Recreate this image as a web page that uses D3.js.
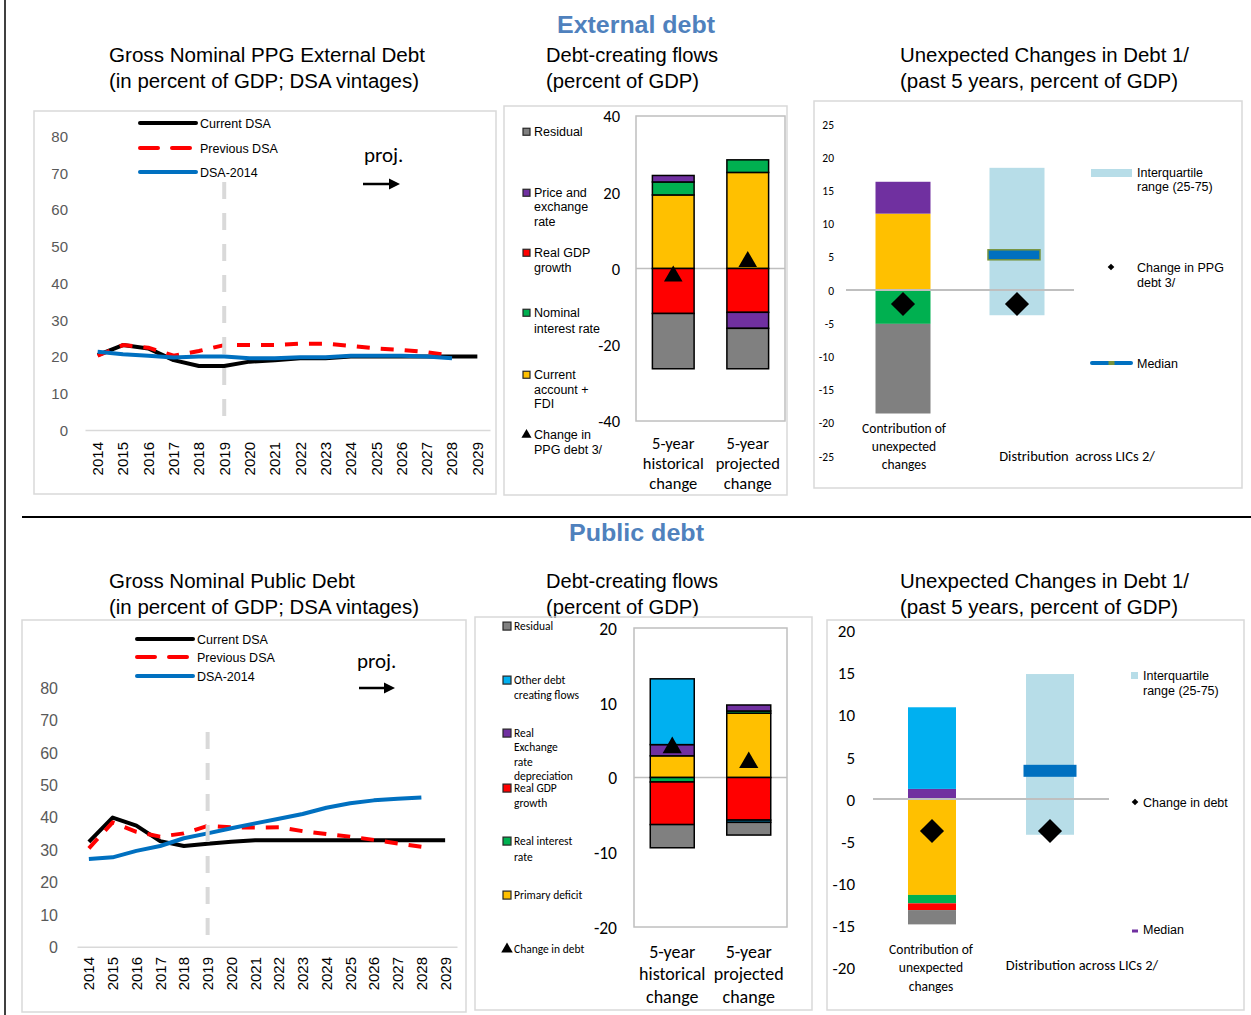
<!DOCTYPE html>
<html><head><meta charset="utf-8">
<script src="https://cdn.jsdelivr.net/npm/d3@7"></script>
<style>body{margin:0;background:#fff}svg{display:block}</style>
</head><body><svg id="c" width="1251" height="1015"></svg>
<script>
// ---------------- DATA ----------------
const years = [2014,2015,2016,2017,2018,2019,2020,2021,2022,2023,2024,2025,2026,2027,2028,2029];
const lineTicks = [0,10,20,30,40,50,60,70,80];
const lineSeriesNames = ["Current DSA","Previous DSA","DSA-2014"];

// External debt (PPG), % of GDP
const extCurrent  = [20.4,23.1,22.2,19.0,17.4,17.4,18.6,19.0,19.5,19.5,20.0,20.0,20.0,20.0,20.0,20.0];
const extPrevious = [20.2,23.1,22.4,20.2,21.5,23.1,23.1,23.1,23.5,23.5,22.9,22.2,21.8,21.2,20.2];
const ext2014     = [21.3,20.6,20.2,19.7,20.0,20.0,19.5,19.5,19.8,19.8,20.2,20.2,20.2,20.0,19.5];

// Public debt, % of GDP
const pubCurrent  = [32.4,39.9,37.4,32.6,31.1,31.8,32.4,32.9,32.9,32.9,32.9,32.9,32.9,32.9,32.9,32.9];
const pubPrevious = [30.4,38.4,35.5,34.0,35.0,37.3,36.9,36.8,36.9,35.7,34.8,34.0,33.0,31.9,30.9];
const pub2014     = [27.1,27.6,29.6,31.1,33.5,35.0,36.6,38.1,39.5,41.0,42.9,44.3,45.2,45.7,46.1];

// Debt-creating flows
const flowCats = ["5-year historical change","5-year projected change"];
const flowCatLines = [["5-year","historical","change"],["5-year","projected","change"]];

// external flows (stack order: CA, RGDP, NomInt, Price, Residual)
const extKeys = ["Current account + FDI","Real GDP growth","Nominal interest rate","Price and exchange rate","Residual"];
const extCA       = [19.3, 25.2];
const extRGDP     = [-11.8, -11.5];
const extNomInt   = [3.4, 3.3];
const extPrice    = [1.7, -4.2];
const extResidual = [-14.5, -10.6];
const extChange   = [-2.0, 1.8];
const flowTicksExt = [-40,-20,0,20,40];

// public flows (stack order: Primary, RealInt, RGDP, RER, Other, Residual)
const pubKeys = ["Primary deficit","Real interest rate","Real GDP growth","Real Exchange rate depreciation","Other debt creating flows","Residual"];
const pubPrimary  = [2.9, 8.6];
const pubRealInt  = [-0.6, 0.3];
const pubRGDP     = [-5.7, -5.7];
const pubRER      = [1.5, 0.8];
const pubOther    = [8.8, -0.3];
const pubResidual = [-3.1, -1.7];
const pubChange   = [4.0, 2.0];
const flowTicksPub = [-20,-10,0,10,20];

// Unexpected changes
const unexpCats = ["Contribution of unexpected changes","Distribution across LICs 2/"];
const extUnexp = [11.5, 0, -5.1, 4.8, -13.5];          // same order as extKeys
const extUnexpChange = -2.1;
const extIQR = [-3.8, 18.4];
const extMedian = 5.3;
const unexpTicksExt = [-25,-20,-15,-10,-5,0,5,10,15,20,25];

const pubUnexp = [-11.4, -1.0, -0.8, 1.2, 9.7, -1.7];  // same order as pubKeys
const pubUnexpChange = -3.8;
const pubIQR = [-4.25, 14.85];
const pubMedian = 3.35;
const unexpTicksPub = [-20,-15,-10,-5,0,5,10,15,20];

// ---------------- STYLE ----------------
const C = {gray:"#808080", purple:"#7030a0", red:"#ff0000", green:"#00b050", yellow:"#ffc000", sky:"#00b0f0", iqr:"#b7dde8", median:"#0070c0", black:"#000", blue:"#0070c0"};
const extColors = {"Current account + FDI":C.yellow,"Real GDP growth":C.red,"Nominal interest rate":C.green,"Price and exchange rate":C.purple,"Residual":C.gray};
const pubColors = {"Primary deficit":C.yellow,"Real interest rate":C.green,"Real GDP growth":C.red,"Real Exchange rate depreciation":C.purple,"Other debt creating flows":C.sky,"Residual":C.gray};
const FONT = "'Liberation Sans', Arial, sans-serif";
const NARROW = "'Liberation Sans Narrow','Arial Narrow','Liberation Sans',Arial,sans-serif";
const CAL = "Carlito, Calibri, Lato, 'Open Sans', sans-serif";
const plain = d => String(d);

const svg = d3.select("#c");

// frame lines
svg.append("line").attr("x1",5).attr("x2",5).attr("y1",0).attr("y2",1015).attr("stroke","#000").attr("stroke-width",1.5);
svg.append("line").attr("x1",22).attr("x2",1251).attr("y1",517).attr("y2",517).attr("stroke","#000").attr("stroke-width",2);

function txt(s, x, y, fs, fam, opt={}) {
  const t = svg.append("text").attr("x",x).attr("y",y).attr("font-size",fs).attr("font-family",fam)
    .attr("fill",opt.fill||"#000").attr("text-anchor",opt.anchor||"start").text(s);
  if (opt.weight) t.attr("font-weight",opt.weight);
  if (opt.len) t.attr("textLength",opt.len).attr("lengthAdjust","spacingAndGlyphs");
  return t;
}

// Section & panel titles
txt("External debt", 557, 33, 24, NARROW, {fill:"#4f81bd", weight:"bold", len:158});
txt("Public debt", 569, 541, 24, NARROW, {fill:"#4f81bd", weight:"bold", len:135});
[[62,88],[588,614]].forEach(([a,b],k)=>{
  txt(k===0?"Gross Nominal PPG External Debt":"Gross Nominal Public Debt", 109, a, 20, NARROW, {len:k===0?316:246});
  txt("(in percent of GDP; DSA vintages)", 109, b, 20, NARROW, {len:310});
  txt("Debt-creating flows", 546, a, 20, NARROW, {len:172});
  txt("(percent of GDP)", 546, b, 20, NARROW, {len:153});
  txt("Unexpected Changes in Debt 1/", 900, a, 20, NARROW, {len:289});
  txt("(past 5 years, percent of GDP)", 900, b, 20, NARROW, {len:278});
});

// ---------------- LINE PANELS ----------------
function linePanel(o) {
  const g = svg.append("g");
  g.append("rect").attr("x",o.box[0]).attr("y",o.box[1]).attr("width",o.box[2]).attr("height",o.box[3])
    .attr("fill","none").attr("stroke","#d9d9d9").attr("stroke-width",1.5);
  const x = d3.scaleBand().domain(years).range(o.xr);
  const y = d3.scaleLinear().domain([0,80]).range(o.yr);
  const cx = d => x(d) + x.bandwidth()/2;

  const ya = g.append("g").attr("transform",`translate(${o.tickX},0)`)
    .call(d3.axisLeft(y).tickValues(lineTicks).tickFormat(plain).tickSize(0).tickPadding(0));
  ya.select(".domain").remove();
  ya.selectAll("text").attr("font-family",FONT).attr("font-size",o.tickFs).attr("fill","#595959").attr("dy","0.36em");

  const xa = g.append("g").attr("transform",`translate(0,${o.yr[0]})`)
    .call(d3.axisBottom(x).tickFormat(plain).tickSize(0).tickSizeOuter(0));
  xa.select(".domain").attr("stroke","#d9d9d9").attr("stroke-width",1.5);
  xa.selectAll("text").attr("font-family",FONT).attr("font-size",15).attr("fill","#000")
    .attr("transform","rotate(-90)").attr("text-anchor","end")
    .attr("x", -(o.yearTop - o.yr[0])).attr("y",0).attr("dy","0.36em");

  const line = d3.line().x((d,i)=>cx(years[i])).y(d=>y(d));
  const styles = [
    {c:C.black, dash:null},
    {c:C.red, dash:"13,11"},
    {c:C.blue, dash:null}
  ];
  o.series.forEach((s,i)=>{
    g.append("path").attr("d",line(s)).attr("fill","none").attr("stroke",styles[i].c)
      .attr("stroke-width",4).attr("stroke-dasharray",styles[i].dash).attr("stroke-linejoin","round");
  });
  // projection divider
  g.append("line").attr("x1",cx(2019)).attr("x2",cx(2019)).attr("y1",o.dashTop).attr("y2",o.yr[0])
    .attr("stroke","#d9d9d9").attr("stroke-width",4).attr("stroke-dasharray","17,14");
  // legend
  lineSeriesNames.forEach((n,i)=>{
    g.append("line").attr("x1",o.lx[0]).attr("x2",o.lx[1]).attr("y1",o.ly[i]).attr("y2",o.ly[i])
      .attr("stroke",styles[i].c).attr("stroke-width",4).attr("stroke-dasharray",styles[i].dash?"18,14":null)
      .attr("stroke-linecap","round");
    g.append("text").attr("x",o.lx[1]+4).attr("y",o.ly[i]).attr("dy","0.36em").attr("font-family",FONT)
      .attr("font-size",12.5).text(n);
  });
  // proj.
  g.append("text").attr("x",o.proj[0]).attr("y",o.proj[1]).attr("font-family",CAL).attr("font-size",21).text("proj.");
  g.append("line").attr("x1",o.arrow[0]).attr("x2",o.arrow[1]-8).attr("y1",o.arrow[2]).attr("y2",o.arrow[2])
    .attr("stroke","#000").attr("stroke-width",2.5);
  g.append("path").attr("d",`M${o.arrow[1]},${o.arrow[2]} L${o.arrow[1]-11},${o.arrow[2]-5.5} L${o.arrow[1]-11},${o.arrow[2]+5.5} Z`).attr("fill","#000");
}

linePanel({box:[34,111,462,383], xr:[85,490], yr:[430,136], tickX:68, tickFs:15, yearTop:442, dashTop:182,
  lx:[140,196], ly:[123,148,172], proj:[364,162], arrow:[363,400,184],
  series:[extCurrent, extPrevious, ext2014]});
linePanel({box:[22,620,444,392], xr:[77,457], yr:[946.7,687.7], tickX:58, tickFs:16, yearTop:957, dashTop:732,
  lx:[137,193], ly:[639,657,676], proj:[357,668], arrow:[359,395,688],
  series:[pubCurrent, pubPrevious, pub2014]});

// ---------------- FLOW PANELS ----------------
function flowPanel(o) {
  const g = svg.append("g");
  g.append("rect").attr("x",o.outer[0]).attr("y",o.outer[1]).attr("width",o.outer[2]).attr("height",o.outer[3])
    .attr("fill","none").attr("stroke","#d9d9d9").attr("stroke-width",1.5);
  g.append("rect").attr("x",o.px[0]).attr("y",o.py[1]).attr("width",o.px[1]-o.px[0]).attr("height",o.py[0]-o.py[1])
    .attr("fill","none").attr("stroke","#bfbfbf").attr("stroke-width",1.5);
  const x = d3.scaleBand().domain(flowCats).range(o.px);
  const y = d3.scaleLinear().domain(o.domain).range(o.py);
  const bw = x.bandwidth()*o.bwFrac;
  const cx = d => x(d) + x.bandwidth()/2;

  g.append("line").attr("x1",o.px[0]).attr("x2",o.px[1]).attr("y1",y(0)).attr("y2",y(0))
    .attr("stroke","#bfbfbf").attr("stroke-width",1.5);

  const rows = flowCats.map((c,i)=>{const r={cat:c}; o.keys.forEach((k,j)=>r[k]=o.vals[j][i]); return r;});
  const stacked = d3.stack().keys(o.keys).offset(d3.stackOffsetDiverging)(rows);
  stacked.forEach(layer=>{
    g.selectAll(null).data(layer.filter(d=>d[1]!==d[0])).join("rect")
      .attr("x",d=>cx(d.data.cat)-bw/2).attr("width",bw)
      .attr("y",d=>y(Math.max(d[0],d[1]))).attr("height",d=>Math.abs(y(d[0])-y(d[1])))
      .attr("fill",o.colors[layer.key]).attr("stroke","#000").attr("stroke-width",1.5);
  });
  g.selectAll(null).data(o.change).join("path")
    .attr("d",d3.symbol(d3.symbolTriangle, o.triSize))
    .attr("transform",(d,i)=>`translate(${cx(flowCats[i])},${y(d)})`).attr("fill","#000");

  const ya = g.append("g").attr("transform",`translate(${o.tickX},0)`)
    .call(d3.axisLeft(y).tickValues(o.ticks).tickFormat(plain).tickSize(0).tickPadding(0));
  ya.select(".domain").remove();
  ya.selectAll("text").attr("font-family",CAL).attr("font-size",o.tickFs).attr("fill","#000").attr("dy","0.36em");

  // categories
  flowCats.forEach((c,i)=>{
    flowCatLines[i].forEach((l,j)=>{
      g.append("text").attr("x",cx(c)).attr("y",o.catY[j]).attr("text-anchor","middle")
        .attr("font-family",CAL).attr("font-size",o.catFs).text(l);
    });
  });
  // legend
  o.legend.forEach(it=>{
    const cy = it.ys[0] - o.legFs*0.34;
    if (it.key==="__tri") {
      g.append("path").attr("d",d3.symbol(d3.symbolTriangle, o.legSq*o.legSq*0.9)())
        .attr("transform",`translate(${o.sqX+o.legSq/2},${cy})`).attr("fill","#000");
    } else {
      g.append("rect").attr("x",o.sqX).attr("y",cy-o.legSq/2).attr("width",o.legSq).attr("height",o.legSq)
        .attr("fill",o.colors[it.key]).attr("stroke","#262626").attr("stroke-width",1.2);
    }
    it.lines.forEach((l,j)=>{
      g.append("text").attr("x",o.textX).attr("y",it.ys[j]).attr("font-family",o.legFam)
        .attr("font-size",o.legFs).text(l);
    });
  });
}

flowPanel({outer:[504,106,283,389], px:[636,785], py:[421,116], domain:[-40,40], ticks:flowTicksExt,
  tickX:620, tickFs:16.5, bwFrac:0.56, triSize:150, catY:[449,469,489], catFs:16.5,
  keys:extKeys, colors:extColors, vals:[extCA,extRGDP,extNomInt,extPrice,extResidual], change:extChange,
  sqX:523, legSq:7, textX:534, legFs:12.5, legFam:FONT,
  legend:[
    {key:"Residual", lines:["Residual"], ys:[136]},
    {key:"Price and exchange rate", lines:["Price and","exchange","rate"], ys:[197,211,226]},
    {key:"Real GDP growth", lines:["Real GDP","growth"], ys:[257,272]},
    {key:"Nominal interest rate", lines:["Nominal","interest rate"], ys:[317,333]},
    {key:"Current account + FDI", lines:["Current","account +","FDI"], ys:[379,394,408]},
    {key:"__tri", lines:["Change in","PPG debt 3/"], ys:[439,454]}
  ]});

flowPanel({outer:[475,617,337,393], px:[634,787], py:[927,628], domain:[-20,20], ticks:flowTicksPub,
  tickX:617, tickFs:17.5, bwFrac:0.575, triSize:160, catY:[958,980,1003], catFs:18,
  keys:pubKeys, colors:pubColors, vals:[pubPrimary,pubRealInt,pubRGDP,pubRER,pubOther,pubResidual], change:pubChange,
  sqX:503, legSq:8, textX:514, legFs:11.5, legFam:CAL,
  legend:[
    {key:"Residual", lines:["Residual"], ys:[630]},
    {key:"Other debt creating flows", lines:["Other debt","creating flows"], ys:[684,699]},
    {key:"Real Exchange rate depreciation", lines:["Real","Exchange","rate","depreciation"], ys:[737,751,766,780]},
    {key:"Real GDP growth", lines:["Real GDP","growth"], ys:[792,807]},
    {key:"Real interest rate", lines:["Real interest","rate"], ys:[845,861]},
    {key:"Primary deficit", lines:["Primary deficit"], ys:[899]},
    {key:"__tri", lines:["Change in debt"], ys:[953]}
  ]});

// ---------------- UNEXPECTED CHANGES PANELS ----------------
function unexpPanel(o) {
  const g = svg.append("g");
  g.append("rect").attr("x",o.outer[0]).attr("y",o.outer[1]).attr("width",o.outer[2]).attr("height",o.outer[3])
    .attr("fill","none").attr("stroke","#d9d9d9").attr("stroke-width",1.5);
  const x = d3.scaleBand().domain(unexpCats).range(o.px);
  const y = d3.scaleLinear().domain(o.domain).range(o.py);
  const cx = d => x(d) + x.bandwidth()/2;
  const bw = o.bw;

  const row = {cat:unexpCats[0]}; o.keys.forEach((k,j)=>row[k]=o.vals[j]);
  const stacked = d3.stack().keys(o.keys).offset(d3.stackOffsetDiverging)([row]);
  stacked.forEach(layer=>{
    g.selectAll(null).data(layer.filter(d=>d[1]!==d[0])).join("rect")
      .attr("x",d=>cx(d.data.cat)-bw/2).attr("width",bw)
      .attr("y",d=>y(Math.max(d[0],d[1]))).attr("height",d=>Math.abs(y(d[0])-y(d[1])))
      .attr("fill",o.colors[layer.key]);
  });
  // IQR
  const c2 = cx(unexpCats[1]);
  g.append("rect").attr("x",c2-bw/2).attr("width",bw).attr("y",y(o.iqr[1])).attr("height",y(o.iqr[0])-y(o.iqr[1]))
    .attr("fill",C.iqr);
  // zero line
  g.append("line").attr("x1",o.px[0]).attr("x2",o.px[1]).attr("y1",y(0)).attr("y2",y(0))
    .attr("stroke","#bfbfbf").attr("stroke-width",2);
  // median
  g.append("rect").attr("x",c2+o.medOff-o.medW/2).attr("width",o.medW).attr("y",y(o.median)-o.medH/2).attr("height",o.medH)
    .attr("fill",C.median).attr("stroke",o.medStroke||"none").attr("stroke-width",1.5);
  // diamonds
  [cx(unexpCats[0]), c2].forEach(xx=>{
    g.append("path").attr("d",d3.symbol(d3.symbolSquare, 290)())
      .attr("transform",`translate(${xx},${y(o.change)}) rotate(45)`).attr("fill","#000");
  });
  // axis
  const ya = g.append("g").attr("transform",`translate(${o.tickX},0)`)
    .call(d3.axisLeft(y).tickValues(o.ticks).tickFormat(plain).tickSize(0).tickPadding(0));
  ya.select(".domain").remove();
  ya.selectAll("text").attr("font-family",CAL).attr("font-size",o.tickFs).attr("fill","#000").attr("dy","0.36em");
  // categories
  ["Contribution of","unexpected","changes"].forEach((l,j)=>{
    g.append("text").attr("x",o.cat1[0]).attr("y",o.cat1[1][j]).attr("text-anchor","middle")
      .attr("font-family",CAL).attr("font-size",o.catFs).text(l);
  });
  g.append("text").attr("x",o.cat2[0]).attr("y",o.cat2[1]).attr("text-anchor","middle")
    .attr("font-family",CAL).attr("font-size",o.catFs+1).attr("xml:space","preserve").text(o.cat2Text);
  // legend
  const L = o.leg;
  g.append("rect").attr("x",L.iqr[0]).attr("y",L.iqr[1]).attr("width",L.iqr[2]).attr("height",L.iqr[3]).attr("fill",C.iqr);
  ["Interquartile","range (25-75)"].forEach((l,j)=>g.append("text").attr("x",L.tx).attr("y",L.iqrY[j])
    .attr("font-family",FONT).attr("font-size",12.5).text(l));
  g.append("path").attr("d",d3.symbol(d3.symbolSquare, 22)())
    .attr("transform",`translate(${L.dia[0]},${L.dia[1]}) rotate(45)`).attr("fill","#000");
  L.chgLines.forEach((l,j)=>g.append("text").attr("x",L.tx).attr("y",L.chgY[j])
    .attr("font-family",FONT).attr("font-size",12.5).text(l));
  if (L.medLine) {
    g.append("line").attr("x1",L.medLine[0]).attr("x2",L.medLine[1]).attr("y1",L.medLine[2]).attr("y2",L.medLine[2])
      .attr("stroke",C.median).attr("stroke-width",4).attr("stroke-linecap","round");
    const m = (L.medLine[0]+L.medLine[1])/2;
    g.append("rect").attr("x",m-3).attr("y",L.medLine[2]-2).attr("width",6).attr("height",4).attr("fill","#77933c");
  } else {
    g.append("rect").attr("x",L.medDash[0]).attr("y",L.medDash[1]).attr("width",L.medDash[2]).attr("height",L.medDash[3]).attr("fill",C.purple);
  }
  g.append("text").attr("x",L.tx).attr("y",L.medY).attr("font-family",FONT).attr("font-size",12.5).text("Median");
}

unexpPanel({outer:[814,101,428,387], px:[846,1074], py:[456,124], domain:[-25,25], ticks:unexpTicksExt,
  tickX:834, tickFs:11.5, bw:55, keys:extKeys, colors:extColors, vals:extUnexp, change:extUnexpChange,
  iqr:extIQR, median:extMedian, medW:52, medH:10, medOff:-3, medStroke:"#77933c",
  catFs:13.5, cat1:[904,[433,451,469]], cat2:[1077,461], cat2Text:"Distribution  across LICs 2/",
  leg:{tx:1137, iqr:[1091,169,41,8], iqrY:[177,191], dia:[1111,267], chgLines:["Change in PPG","debt 3/"], chgY:[272,287],
       medLine:[1092,1131,363], medY:[368]}});

unexpPanel({outer:[827,620,417,390], px:[873,1109], py:[967.3,630.7], domain:[-20,20], ticks:unexpTicksPub,
  tickX:855, tickFs:17, bw:48, keys:pubKeys, colors:pubColors, vals:pubUnexp, change:pubUnexpChange,
  iqr:pubIQR, median:pubMedian, medW:53, medH:12, medOff:0, medStroke:null,
  catFs:13.5, cat1:[931,[954,972,991]], cat2:[1082,970], cat2Text:"Distribution across LICs 2/",
  leg:{tx:1143, iqr:[1131,672,7,7], iqrY:[680,695], dia:[1135,802], chgLines:["Change in debt"], chgY:[807],
       medDash:[1132,929.5,6,3], medY:[934]}});
</script>
</body></html>
